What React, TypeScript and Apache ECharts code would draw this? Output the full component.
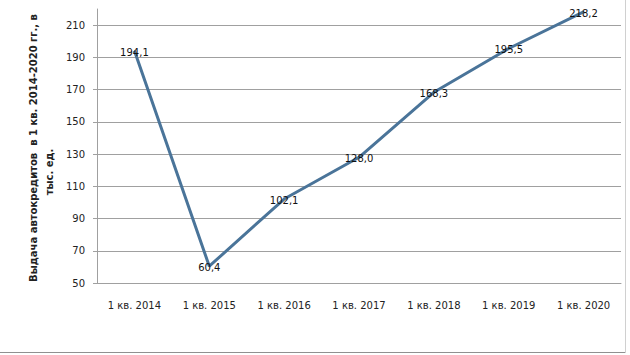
import React, { useEffect, useRef } from "react";
import * as echarts from "echarts";

const categories = ["1 кв. 2014", "1 кв. 2015", "1 кв. 2016", "1 кв. 2017", "1 кв. 2018", "1 кв. 2019", "1 кв. 2020"];
const values = [194.1, 60.4, 102.1, 128.0, 168.3, 195.5, 218.2];
const yTitleLine1 = "Выдача автокредитов  в 1 кв. 2014-2020 гг., в";
const yTitleLine2 = "тыс. ед.";

export default function App() {
  const ref = useRef<HTMLDivElement>(null);
  useEffect(() => {
    const chart = echarts.init(ref.current!, null, { renderer: "svg" });
    const font = "DejaVu Sans";
    const titleStyle = (text: string) => ({
      text,
      font: "bold 10px 'DejaVu Sans'",
      fill: "#222",
      align: "center",
      verticalAlign: "middle",
    });
    chart.setOption({
      animation: false,
      backgroundColor: "#ffffff",
      grid: { left: 97, right: 9, top: 9, bottom: 72 },
      xAxis: {
        type: "category",
        data: categories,
        boundaryGap: true,
        axisLine: { lineStyle: { color: "#a0a0a0", width: 1 } },
        axisTick: { show: false },
        axisLabel: { color: "#222", fontFamily: font, fontSize: 10, margin: 17 },
      },
      yAxis: {
        type: "value",
        min: 50,
        max: 220,
        interval: 20,
        axisLine: { show: true, lineStyle: { color: "#a0a0a0", width: 1 } },
        axisTick: { show: true, length: 4, lineStyle: { color: "#a0a0a0" } },
        axisLabel: { color: "#222", fontFamily: font, fontSize: 10, margin: 12, showMaxLabel: false },
        splitLine: { show: true, showMaxLine: false, lineStyle: { color: "#a0a0a0", width: 1 } },
      },
      series: [
        {
          type: "line",
          data: values,
          symbol: "circle",
          symbolSize: 1,
          showSymbol: true,
          clip: false,
          itemStyle: { color: "#4a7499" },
          lineStyle: { color: "#4a7499", width: 3 },
          label: {
            show: true,
            position: "top",
            distance: 0,
            offset: [0, 7],
            color: "#111",
            fontFamily: font,
            fontSize: 10,
            formatter: (p: any) => Number(p.value).toFixed(1).replace(".", ","),
          },
        },
      ],
      graphic: [
        {
          type: "text",
          x: 33,
          y: 148,
          rotation: Math.PI / 2,
          style: titleStyle(yTitleLine1),
        },
        {
          type: "text",
          x: 49,
          y: 172,
          rotation: Math.PI / 2,
          style: titleStyle(yTitleLine2),
        },
        {
          type: "line",
          shape: { x1: 0, y1: 352.5, x2: 626, y2: 352.5 },
          style: { stroke: "#909090", lineWidth: 1 },
        },
        {
          type: "line",
          shape: { x1: 625.5, y1: 0, x2: 625.5, y2: 353 },
          style: { stroke: "#d0d0d0", lineWidth: 1 },
        },
      ],
    });
    return () => chart.dispose();
  }, []);
  return <div ref={ref} style={{ width: 630, height: 355, position: "absolute", left: 0, top: 0 }} />;
}
